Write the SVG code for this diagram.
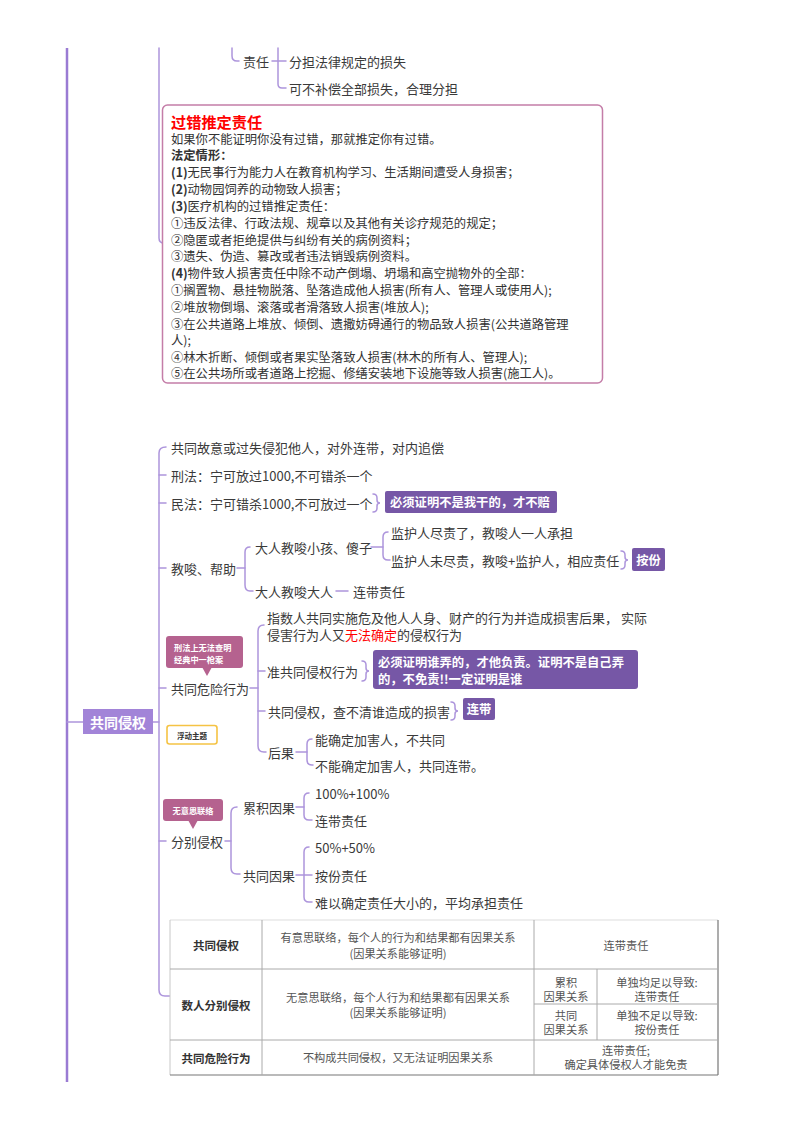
<svg xmlns="http://www.w3.org/2000/svg" width="800" height="1132" viewBox="0 0 800 1132">
<style>
text{font-family:"Noto Sans CJK SC","Noto Sans",sans-serif;dominant-baseline:central}
.t{font-size:13px;fill:#3a3a3a}
.b{font-size:12.3px;fill:#333}
.bb{font-weight:bold}
.c{fill:none;stroke:#ad95dc;stroke-width:1.5;stroke-linecap:round}
.lab{fill:#7657a6}
.labt{font-size:12.3px;font-weight:bold;fill:#fff}
.call{fill:#b5628f}
.callt{font-size:8.2px;font-weight:bold;fill:#fff}
.tb1{font-size:11.5px;font-weight:bold;fill:#333;text-anchor:middle}
.tb2{font-size:11.2px;fill:#555;text-anchor:middle}
.tl{stroke:#aaa;stroke-width:1;fill:none}
</style>
<rect width="800" height="1132" fill="#fff"/>
<g id="connectors">
<path d="M67,48 V1082" fill="none" stroke="#9a7bd3" stroke-width="2.5"/>
<path class="c" d="M232,48 V56 Q232,61 237,61 H239"/>
<path class="c" d="M272,61 H286"/>
<path class="c" d="M278,48 V84 Q278,88 282,88 H286"/>
<path class="c" d="M159,48 V238 Q159,243 164,243"/>
<path class="c" d="M67,722 H83"/>
<path class="c" d="M153,722 H159"/>
<path class="c" d="M166,447 Q159,447 159,453 V990 Q159,996 165,996 H170"/>
<path class="c" d="M159,475 H166 M159,503 H166 M159,568 H166 M159,688 H166 M159,841 H166"/>
<path class="c" d="M373,494 Q377,494 377,498 V500 Q377,503 380,503 Q377,503 377,506 V508 Q377,512 373,512"/>
<path class="c" d="M237,568 H245"/>
<path class="c" d="M250,547 Q245,547 245,552 V585 Q245,591 250,591 H253"/>
<path class="c" d="M371,547 H383"/>
<path class="c" d="M388,532 Q383,532 383,537 V555 Q383,560 388,560 H390"/>
<path class="c" d="M336,591 H348"/>
<path class="c" d="M621,551 Q625,551 625,555 V557 Q625,560 628,560 Q625,560 625,563 V565 Q625,569 621,569"/>
<path class="c" d="M250,688 H258"/>
<path class="c" d="M264,625 Q258,625 258,631 V746 Q258,752 264,752 H266"/>
<path class="c" d="M258,671 H265 M258,711 H265"/>
<path class="c" d="M362,661 Q366,661 366,665 V668 Q366,671 369,671 Q366,671 366,674 V677 Q366,681 362,681"/>
<path class="c" d="M451,702 Q455,702 455,706 V708 Q455,711 458,711 Q455,711 455,714 V716 Q455,720 451,720"/>
<path class="c" d="M296,752 H307"/>
<path class="c" d="M312,739 Q307,739 307,744 V760 Q307,765 312,765 H313"/>
<path class="c" d="M225,841 H231"/>
<path class="c" d="M237,807 Q231,807 231,813 V868 Q231,874 237,874 H240"/>
<path class="c" d="M296,807 H304"/>
<path class="c" d="M309,793 Q304,793 304,798 V815 Q304,820 309,820 H312"/>
<path class="c" d="M296,875 H304"/>
<path class="c" d="M309,847 Q304,847 304,852 V897 Q304,902 309,902 H312 M304,875 H312"/>
</g>
<g id="n-zeren">
<text class="t" x="243" y="61">责任</text>
<text class="t" x="289" y="61">分担法律规定的损失</text>
<text class="t" x="289" y="88">可不补偿全部损失，合理分担</text>
</g>
<g id="n-guocuo">
<rect x="162.5" y="105" width="440" height="278" rx="5" fill="#fff" stroke="#c47da8" stroke-width="1.5"/>
<text x="171" y="121" font-size="15.2" font-weight="bold" fill="#f00">过错推定责任</text>
<text class="b" x="171" y="139">如果你不能证明你没有过错，那就推定你有过错。</text>
<text class="b bb" x="171" y="155">法定情形：</text>
<text class="b" x="171" y="172"><tspan class="bb">(1)</tspan>无民事行为能力人在教育机构学习、生活期间遭受人身损害；</text>
<text class="b" x="171" y="189"><tspan class="bb">(2)</tspan>动物园饲养的动物致人损害；</text>
<text class="b" x="171" y="206"><tspan class="bb">(3)</tspan>医疗机构的过错推定责任：</text>
<text class="b" x="171" y="223">①违反法律、行政法规、规章以及其他有关诊疗规范的规定；</text>
<text class="b" x="171" y="240">②隐匿或者拒绝提供与纠纷有关的病例资料；</text>
<text class="b" x="171" y="256">③遗失、伪造、篡改或者违法销毁病例资料。</text>
<text class="b" x="171" y="273"><tspan class="bb">(4)</tspan>物件致人损害责任中除不动产倒塌、坍塌和高空抛物外的全部：</text>
<text class="b" x="171" y="290">①搁置物、悬挂物脱落、坠落造成他人损害(所有人、管理人或使用人);</text>
<text class="b" x="171" y="307">②堆放物倒塌、滚落或者滑落致人损害(堆放人);</text>
<text class="b" x="171" y="324">③在公共道路上堆放、倾倒、遗撒妨碍通行的物品致人损害(公共道路管理</text>
<text class="b" x="171" y="340">人);</text>
<text class="b" x="171" y="357">④林木折断、倾倒或者果实坠落致人损害(林木的所有人、管理人);</text>
<text class="b" x="171" y="373">⑤在公共场所或者道路上挖掘、修缮安装地下设施等致人损害(施工人)。</text>
</g>
<g id="n-root">
<rect x="83" y="709" width="70" height="25" fill="#a284d8"/>
<text x="118" y="722" font-size="14" font-weight="bold" fill="#fff" text-anchor="middle">共同侵权</text>
</g>
<g id="n-gongtong"><text class="t" x="171" y="447">共同故意或过失侵犯他人，对外连带，对内追偿</text></g>
<g id="n-xingfa"><text class="t" x="171" y="475">刑法：宁可放过1000,不可错杀一个</text></g>
<g id="n-minfa">
<text class="t" x="171" y="503">民法：宁可错杀1000,不可放过一个</text>
<rect class="lab" x="385" y="491" width="172" height="22" rx="2"/>
<text class="labt" x="390" y="502">必须证明不是我干的，才不赔</text>
</g>
<g id="n-jiaosuo">
<text class="t" x="171" y="568">教唆、帮助</text>
<text class="t" x="255" y="547">大人教唆小孩、傻子</text>
<text class="t" x="391" y="532">监护人尽责了，教唆人一人承担</text>
<text class="t" x="391" y="560">监护人未尽责，教唆+监护人，相应责任</text>
<rect class="lab" x="632" y="548" width="33" height="23" rx="2"/>
<text class="labt" x="648.5" y="559.5" text-anchor="middle">按份</text>
<text class="t" x="255" y="591">大人教唆大人</text>
<text class="t" x="353" y="591">连带责任</text>
</g>
<g id="n-weixian">
<rect class="call" x="166" y="636" width="77" height="32" rx="3"/>
<polygon class="call" points="202,667 212,667 207,676"/>
<text class="callt" x="174" y="647">刑法上无法查明</text>
<text class="callt" x="174" y="659">经典中一枪案</text>
<text class="t" x="171" y="688">共同危险行为</text>
<text class="t" x="267" y="617">指数人共同实施危及他人人身、财产的行为并造成损害后果， 实际</text>
<text class="t" x="267" y="634">侵害行为人又<tspan fill="#f00">无法确定</tspan>的侵权行为</text>
<text class="t" x="267" y="671">准共同侵权行为</text>
<rect class="lab" x="373" y="650" width="265" height="39" rx="3"/>
<text class="labt" x="378" y="662">必须证明谁弄的，才他负责。证明不是自己弄</text>
<text class="labt" x="378" y="679">的，不免责!!一定证明是谁</text>
<text class="t" x="268" y="711">共同侵权，查不清谁造成的损害</text>
<rect class="lab" x="463" y="698" width="32" height="22" rx="2"/>
<text class="labt" x="479" y="709" text-anchor="middle">连带</text>
<text class="t" x="268" y="752">后果</text>
<text class="t" x="315" y="739">能确定加害人，不共同</text>
<text class="t" x="315" y="765">不能确定加害人，共同连带。</text>
</g>
<g id="n-fudong">
<rect x="167" y="725.5" width="50" height="18.5" rx="2.5" fill="#fff" stroke="#f5c344" stroke-width="1.6"/>
<text x="192" y="735" font-size="7.5" font-weight="bold" fill="#333" text-anchor="middle">浮动主题</text>
</g>
<g id="n-fenbie">
<rect class="call" x="163" y="799" width="60" height="22" rx="3"/>
<polygon class="call" points="188,820 198,820 193,829"/>
<text class="callt" x="193" y="810" text-anchor="middle">无意思联络</text>
<text class="t" x="171" y="841">分别侵权</text>
<text class="t" x="243" y="807">累积因果</text>
<text class="t" x="315" y="793">100%+100%</text>
<text class="t" x="315" y="820">连带责任</text>
<text class="t" x="243" y="875">共同因果</text>
<text class="t" x="315" y="847">50%+50%</text>
<text class="t" x="315" y="875">按份责任</text>
<text class="t" x="315" y="902">难以确定责任大小的，平均承担责任</text>
</g>
<g id="n-table">
<rect x="170" y="920" width="548" height="155" fill="#fff"/>
<path d="M170,920 H718" stroke="#ddd" stroke-width="1" fill="none"/>
<path d="M170,920 V1075" stroke="#c8c8c8" stroke-width="1" fill="none"/>
<path d="M170,1075 H718 M718,920 V1075" stroke="#777" stroke-width="1.2" fill="none"/>
<path class="tl" d="M170,969 H718 M170,1040 H718 M534,1004 H718 M262,920 V1075 M534,920 V1075 M597,969 V1040"/>
<text class="tb1" x="216" y="945">共同侵权</text>
<text class="tb1" x="216" y="1005">数人分别侵权</text>
<text class="tb1" x="216" y="1058">共同危险行为</text>
<text class="tb2" x="398" y="937">有意思联络，每个人的行为和结果都有因果关系</text>
<text class="tb2" x="398" y="953">(因果关系能够证明)</text>
<text class="tb2" x="398" y="997">无意思联络，每个人行为和结果都有因果关系</text>
<text class="tb2" x="398" y="1012">(因果关系能够证明)</text>
<text class="tb2" x="398" y="1057">不构成共同侵权，又无法证明因果关系</text>
<text class="tb2" x="626" y="945">连带责任</text>
<text class="tb2" x="566" y="982">累积</text>
<text class="tb2" x="566" y="996">因果关系</text>
<text class="tb2" x="566" y="1015">共同</text>
<text class="tb2" x="566" y="1029">因果关系</text>
<text class="tb2" x="657" y="982">单独均足以导致:</text>
<text class="tb2" x="657" y="996">连带责任</text>
<text class="tb2" x="657" y="1015">单独不足以导致:</text>
<text class="tb2" x="657" y="1029">按份责任</text>
<text class="tb2" x="626" y="1050">连带责任;</text>
<text class="tb2" x="626" y="1064">确定具体侵权人才能免责</text>
</g>
</svg>
